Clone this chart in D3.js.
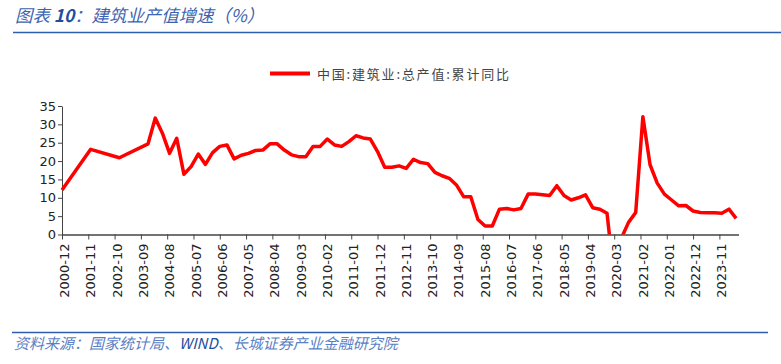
<!DOCTYPE html>
<html>
<head>
<meta charset="utf-8">
<script src="https://cdn.jsdelivr.net/npm/d3@7"></script>
<style>
  body { margin: 0; background: #fff; }
  svg { display: block; }
</style>
</head>
<body>
<svg id="chart"></svg>
<script>
const width = 781;
const height = 364;

// quarterly (annual before 2004) cumulative yoy growth, %
const dates = ['2000-12','2001-12','2002-12','2003-12',
  '2004-03','2004-06','2004-09','2004-12','2005-03','2005-06','2005-09','2005-12',
  '2006-03','2006-06','2006-09','2006-12','2007-03','2007-06','2007-09','2007-12',
  '2008-03','2008-06','2008-09','2008-12','2009-03','2009-06','2009-09','2009-12',
  '2010-03','2010-06','2010-09','2010-12','2011-03','2011-06','2011-09','2011-12',
  '2012-03','2012-06','2012-09','2012-12','2013-03','2013-06','2013-09','2013-12',
  '2014-03','2014-06','2014-09','2014-12','2015-03','2015-06','2015-09','2015-12',
  '2016-03','2016-06','2016-09','2016-12','2017-03','2017-06','2017-09','2017-12',
  '2018-03','2018-06','2018-09','2018-12','2019-03','2019-06','2019-09','2019-12',
  '2020-03','2020-06','2020-09','2020-12','2021-03','2021-06','2021-09','2021-12',
  '2022-03','2022-06','2022-09','2022-12','2023-03','2023-06','2023-09','2023-12',
  '2024-03','2024-06'];
const growth = [12.1, 23.2, 20.9, 24.7,
  31.7, 27.6, 22.1, 26.2, 16.4, 18.5, 21.9, 19.1,
  22.3, 24.0, 24.4, 20.6, 21.6, 22.1, 22.9, 23.0,
  24.7, 24.7, 23.0, 21.7, 21.2, 21.2, 24.0, 24.0,
  26.0, 24.4, 24.0, 25.3, 26.9, 26.3, 26.0, 22.6,
  18.3, 18.3, 18.7, 18.0, 20.5, 19.6, 19.3, 16.9,
  16.0, 15.3, 13.5, 10.3, 10.3, 4.1, 2.3, 2.3,
  6.9, 7.1, 6.7, 7.1, 11.0, 11.0, 10.8, 10.6,
  13.3, 10.6, 9.4, 10.0, 10.8, 7.3, 6.9, 5.8,
  -12.0, -1.0, 3.3, 6.0, 32.1, 19.0, 14.0, 11.0,
  9.4, 7.8, 7.9, 6.4, 6.0, 5.9, 5.9, 5.8,
  6.9, 4.4];

const xTickLabels = ['2000-12','2001-11','2002-10','2003-09','2004-08','2005-07','2006-06',
  '2007-05','2008-04','2009-03','2010-02','2011-01','2011-12','2012-11','2013-10','2014-09',
  '2015-08','2016-07','2017-06','2018-05','2019-04','2020-03','2021-02','2022-01','2022-12','2023-11'];
const yTicks = [0, 5, 10, 15, 20, 25, 30, 35];

const seriesName = '中国:建筑业:总产值:累计同比';
const titleText = ['图表 ', '10', '：建筑业产值增速（%）'];
const sourceText = ['资料来源：国家统计局、', 'WIND', '、长城证券产业金融研究院'];

// months counted from 2000-12
const monthIndex = s => {
  const p = s.split('-');
  return (parseInt(p[0]) - 2000) * 12 + parseInt(p[1]) - 12;
};

const data = dates.map((d, i) => ({ m: monthIndex(d), v: growth[i] }));

const svg = d3.select('#chart').attr('width', width).attr('height', height);

const x = d3.scaleLinear().domain([0, 283]).range([62, 738.5]);
const y = d3.scaleLinear().domain([0, 35]).range([234.5, 106]);

// title
const title = svg.append('text')
  .attr('x', 15).attr('y', 22)
  .style('font-family', '"Noto Sans CJK SC", sans-serif')
  .style('font-size', '17.4px')
  .style('font-style', 'italic')
  .attr('fill', '#3d63b0');
title.append('tspan').text(titleText[0]);
title.append('tspan').text(titleText[1]).style('font-weight', 'bold').attr('fill', '#1f4e9e');
title.append('tspan').text(titleText[2]);

svg.append('line')
  .attr('x1', 13).attr('x2', width).attr('y1', 32.5).attr('y2', 32.5)
  .attr('stroke', '#2e5fae').attr('stroke-width', 1.5);

// legend
svg.append('line')
  .attr('x1', 270).attr('x2', 310).attr('y1', 73.5).attr('y2', 73.5)
  .attr('stroke', '#ff0000').attr('stroke-width', 4);
svg.append('text')
  .attr('x', 317).attr('y', 78.5)
  .attr('textLength', 192)
  .style('font-family', '"Noto Sans CJK SC", sans-serif')
  .style('font-size', '13px')
  .attr('fill', '#444')
  .text(seriesName);

// axes
const axisFont = 'DejaVu Sans, Verdana, sans-serif';

const yAxis = svg.append('g')
  .attr('transform', 'translate(62,0)')
  .call(d3.axisLeft(y).tickValues(yTicks).tickSize(4).tickSizeOuter(0));
yAxis.select('.domain').attr('stroke', '#444');
yAxis.selectAll('.tick line').attr('stroke', '#444');
yAxis.selectAll('.tick text')
  .attr('x', -6)
  .style('font-family', axisFont)
  .style('font-size', '13px')
  .attr('fill', '#222');

const xAxis = svg.append('g')
  .attr('transform', 'translate(0,234.5)')
  .call(d3.axisBottom(x)
    .tickValues(xTickLabels.map(monthIndex))
    .tickFormat((d, i) => xTickLabels[i])
    .tickSize(5).tickSizeOuter(0));
xAxis.select('.domain').attr('stroke', '#444').attr('stroke-width', 1.3);
xAxis.selectAll('.tick line').attr('stroke', '#444');
xAxis.selectAll('.tick text')
  .attr('transform', 'rotate(-90)')
  .attr('text-anchor', 'end')
  .attr('x', -9).attr('y', 2).attr('dy', '0.35em')
  .style('font-family', axisFont)
  .style('font-size', '13px')
  .attr('fill', '#222');

// line, clipped at the zero axis
svg.append('clipPath').attr('id', 'plot-clip')
  .append('rect')
  .attr('x', 55).attr('y', 90).attr('width', 700).attr('height', 144.5);

svg.append('path')
  .datum(data)
  .attr('clip-path', 'url(#plot-clip)')
  .attr('fill', 'none')
  .attr('stroke', '#ff0000')
  .attr('stroke-width', 3.5)
  .attr('stroke-linejoin', 'round')
  .attr('d', d3.line().x(d => x(d.m)).y(d => y(d.v)));

// source
svg.append('line')
  .attr('x1', 12).attr('x2', 768).attr('y1', 332.5).attr('y2', 332.5)
  .attr('stroke', '#2e5fae').attr('stroke-width', 1.5);

const source = svg.append('text')
  .attr('x', 14).attr('y', 349)
  .style('font-family', '"Noto Sans CJK SC", sans-serif')
  .style('font-size', '15px')
  .style('font-style', 'italic')
  .attr('fill', '#5b7fc4');
source.append('tspan').text(sourceText[0]);
source.append('tspan').text(sourceText[1]).attr('fill', '#1f4e9e');
source.append('tspan').text(sourceText[2]);
</script>
</body>
</html>
